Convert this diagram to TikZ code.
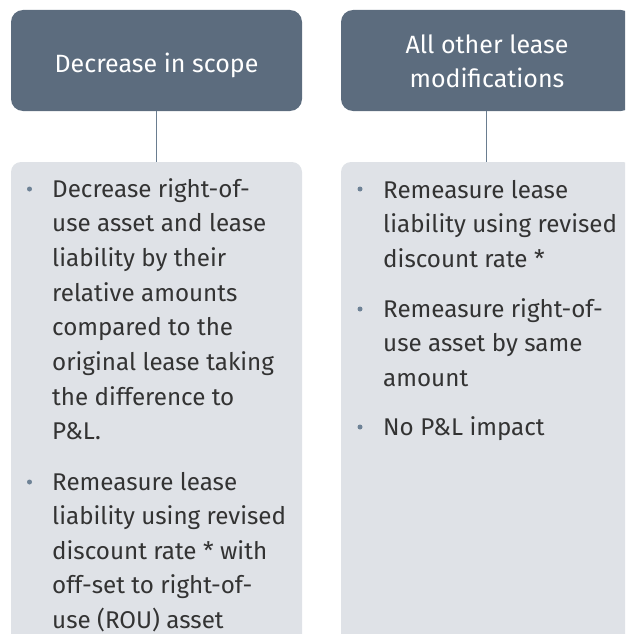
\documentclass[tikz,border=0pt]{standalone}
\usepackage{fontspec}
\setmainfont{Fira Sans}
\definecolor{headfill}{HTML}{5C6C7E}
\definecolor{bodyfill}{HTML}{DFE2E7}
\definecolor{linecol}{HTML}{6A7D90}
\definecolor{dotcol}{HTML}{6E8296}
\definecolor{txtcol}{HTML}{333333}
\begin{document}
\begin{tikzpicture}[x=1pt,y=-1pt,
  headbox/.style={fill=headfill,rounded corners=12pt},
  bodybox/.style={fill=bodyfill,rounded corners=10pt},
  headtext/.style={text=white,font=\fontsize{25}{34}\selectfont,anchor=base,inner sep=0pt},
  bodytext/.style={text=txtcol,font=\fontsize{24.2}{34}\selectfont,anchor=base west,inner sep=0pt},
  bulletdot/.style={circle,fill=dotcol,inner sep=0pt,minimum size=5pt},
  connector/.style={draw=linecol,line width=1pt}]
\useasboundingbox (0,0) rectangle (625,634);
\begin{scope}
\clip (0,0) rectangle (625,634);
% header boxes
\fill[headbox] (11,10) rectangle (302,111);
\fill[headbox] (341,10) rectangle (633,111);
\coordinate (h1b) at (156.5,111);
\coordinate (h2b) at (486,111);
% body boxes
\fill[bodybox] (11,162) rectangle (302,660);
\fill[bodybox] (341,162) rectangle (633,660);
\coordinate (b1t) at (156.5,162);
\coordinate (b2t) at (486,162);
\end{scope}
% connectors
\draw[connector] (h1b) -- (b1t);
\draw[connector] (h2b) -- (b2t);
% header texts
\node[headtext] (ht1) at (156.5,72) {Decrease in scope};
\node[headtext] (ht2a) at (487,53) {All other lease};
\node[headtext] (ht2b) at (487,88) {modifications};
% bullets
\node[bulletdot] (d1) at (29.5,189) {};
\node[bulletdot] (d2) at (29.5,482) {};
\node[bulletdot] (d3) at (360,189) {};
\node[bulletdot] (d4) at (360,309) {};
\node[bulletdot] (d5) at (360,427) {};
% left text
\foreach \t [count=\i] in {Decrease right-of-,use asset and lease,liability by their,relative amounts,compared to the,original lease taking,the difference to,P\&L.}
  \node[bodytext] (la\i) at (52,{197+34.7*(\i-1)}) {\t};
\foreach \t [count=\i] in {Remeasure lease,liability using revised,discount rate * with,off-set to right-of-,use (ROU) asset}
  \node[bodytext] (lb\i) at (52,{490+34.5*(\i-1)}) {\t};
% right text
\foreach \t [count=\i] in {Remeasure lease,liability using revised,discount rate *}
  \node[bodytext] (ra\i) at (383,{198+34.5*(\i-1)}) {\t};
\foreach \t [count=\i] in {Remeasure right-of-,use asset by same,amount}
  \node[bodytext] (rb\i) at (383,{317+34.5*(\i-1)}) {\t};
\node[bodytext] (rc1) at (383,435) {No P\&L impact};
\end{tikzpicture}
\end{document}
